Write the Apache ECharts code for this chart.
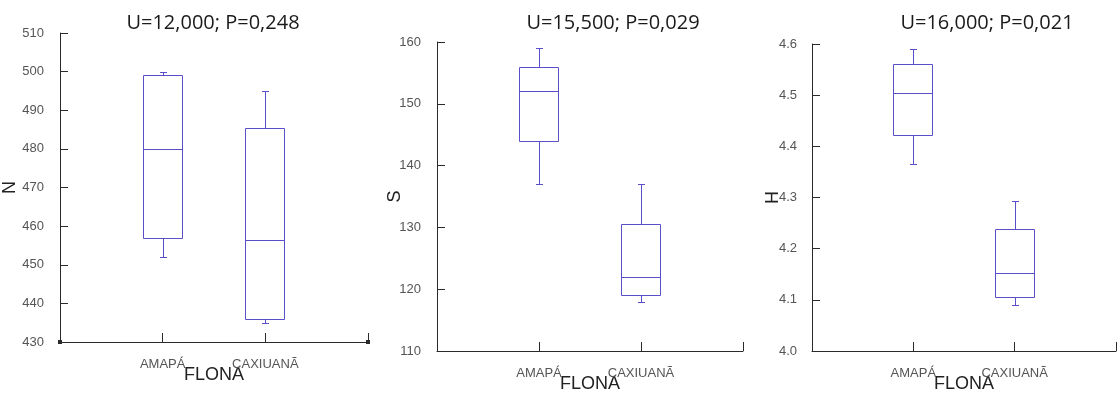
<!DOCTYPE html>
<html>
<head>
<meta charset="utf-8">
<script src="https://cdn.jsdelivr.net/npm/echarts@6/dist/echarts.min.js"></script>
<style>
html,body{margin:0;padding:0;background:#fff;}
#chart{width:1119px;height:398px;}
</style>
</head>
<body>
<div id="chart"></div>
<script>
// Category axis: empty slots at the ends so the two groups sit at 1/3 and 2/3
const categories = ['', 'AMAPÁ', 'CAXIUANÃ', ''];
// Box values: [min, q1, median, q3, max]
const nAmapa = [452, 457, 480, 499, 500];
const nCaxiuana = [435, 436, 456.5, 485.5, 495];
const sAmapa = [137, 144, 152, 156, 159];
const sCaxiuana = [118, 119, 122, 130.5, 137];
const hAmapa = [4.366, 4.422, 4.505, 4.56, 4.59];
const hCaxiuana = [4.09, 4.106, 4.152, 4.238, 4.293];
const titles = ['U=12,000; P=0,248', 'U=15,500; P=0,029', 'U=16,000; P=0,021'];
const yNames = ['N', 'S', 'H'];
const xName = 'FLONA';
const yMin = [430, 110, 4.0];
const yMax = [510, 160, 4.6];
const yInterval = [10, 10, 0.1];
const yDecimals = [0, 0, 1];

const BOX = '#5a4fc9';
const AXIS = '#2a2a2a';
const LABEL = '#555';

const panels = [
  {left: 60, top: 33, width: 308, height: 309, titleX: 213, titleY: 13, nameGap: 41, labelMargin: 16, data: [nAmapa, nCaxiuana], endSym: true},
  {left: 437, top: 42, width: 306, height: 309, titleX: 613, titleY: 13, nameGap: 33, labelMargin: 16, data: [sAmapa, sCaxiuana], endSym: false},
  {left: 812, top: 44, width: 309, height: 310, titleX: 987, titleY: 13, nameGap: 30, labelMargin: 15, data: [hAmapa, hCaxiuana], endSym: false}
];

function px(v) { return Math.round(v) + 0.5; }

function renderBox(params, api) {
  const x = api.value(0);
  const lo = api.coord([x, api.value(1)]);
  const q1 = api.coord([x, api.value(2)]);
  const med = api.coord([x, api.value(3)]);
  const q3 = api.coord([x, api.value(4)]);
  const hi = api.coord([x, api.value(5)]);
  const cx = Math.round(lo[0]);
  const hw = 19.5, cw = 3.5;
  const st = {stroke: BOX, lineWidth: 1, fill: null};
  const xl = cx - hw, xr = cx + hw;
  return {
    type: 'group',
    children: [
      {type: 'rect', shape: {x: xl, y: px(q3[1]), width: 2 * hw, height: px(q1[1]) - px(q3[1])}, style: {stroke: BOX, lineWidth: 1, fill: '#fff'}},
      {type: 'line', shape: {x1: xl, y1: px(med[1]), x2: xr, y2: px(med[1])}, style: st},
      {type: 'line', shape: {x1: cx + 0.5, y1: px(q3[1]), x2: cx + 0.5, y2: px(hi[1])}, style: st},
      {type: 'line', shape: {x1: cx + 0.5 - cw, y1: px(hi[1]), x2: cx + 0.5 + cw, y2: px(hi[1])}, style: st},
      {type: 'line', shape: {x1: cx + 0.5, y1: px(q1[1]), x2: cx + 0.5, y2: px(lo[1])}, style: st},
      {type: 'line', shape: {x1: cx + 0.5 - cw, y1: px(lo[1]), x2: cx + 0.5 + cw, y2: px(lo[1])}, style: st}
    ]
  };
}

const option = {
  animation: false,
  backgroundColor: '#fff',
  title: panels.map((p, i) => ({
    text: titles[i], left: p.titleX, top: p.titleY, textAlign: 'center', padding: 0,
    textStyle: {fontFamily: 'Open Sans', fontSize: 20, fontWeight: 'normal', color: '#1a1a1a'}
  })),
  grid: panels.map(p => ({left: p.left, top: p.top, width: p.width, height: p.height})),
  xAxis: panels.map((p, i) => ({
    type: 'category', gridIndex: i, data: categories, boundaryGap: false,
    name: xName, nameLocation: 'middle', nameGap: 24, nameMoveOverlap: false,
    nameTextStyle: {fontFamily: 'Liberation Sans', fontSize: 18, color: '#222'},
    axisLine: {show: true, lineStyle: {color: AXIS, width: 1},
      symbol: p.endSym ? ['rect', 'rect'] : ['none', 'none'], symbolSize: [4, 4]},
    axisTick: {show: true, inside: true, length: 9, alignWithLabel: true, interval: 0, lineStyle: {color: AXIS}},
    axisLabel: {show: true, interval: 0, margin: 16, fontFamily: 'Liberation Sans', fontSize: 13, color: LABEL},
    splitLine: {show: false}
  })),
  yAxis: panels.map((p, i) => ({
    type: 'value', gridIndex: i, min: yMin[i], max: yMax[i], interval: yInterval[i],
    name: yNames[i], nameLocation: 'middle', nameGap: p.nameGap, nameMoveOverlap: false,
    nameTextStyle: {fontFamily: 'Liberation Sans', fontSize: 18, color: '#222'},
    axisLine: {show: true, lineStyle: {color: AXIS, width: 1}},
    axisTick: {show: true, inside: true, length: 8, lineStyle: {color: AXIS}},
    axisLabel: {margin: p.labelMargin, fontFamily: 'Liberation Sans', fontSize: 13, color: LABEL,
      formatter: v => Number(v).toFixed(yDecimals[i])},
    splitLine: {show: false}
  })),
  series: panels.map((p, i) => ({
    type: 'custom', xAxisIndex: i, yAxisIndex: i,
    renderItem: renderBox,
    encode: {x: 0, y: [1, 2, 3, 4, 5]},
    data: [[1].concat(p.data[0]), [2].concat(p.data[1])]
  }))
};

const chart = echarts.init(document.getElementById('chart'), null, {renderer: 'canvas'});
chart.setOption(option);
</script>
</body>
</html>
